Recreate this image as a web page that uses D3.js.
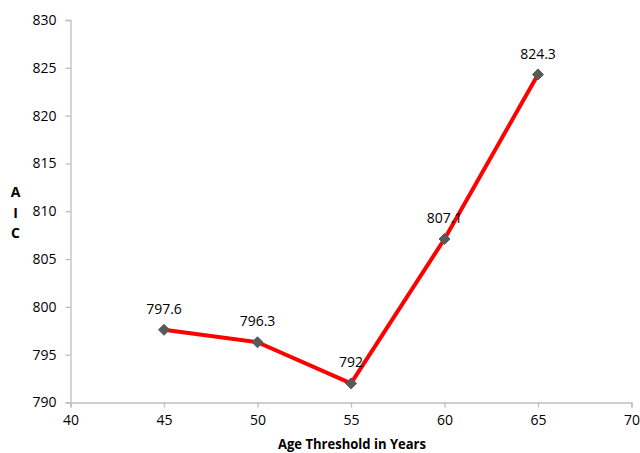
<!DOCTYPE html>
<html>
<head>
<meta charset="utf-8">
<script src="https://cdn.jsdelivr.net/npm/d3@7"></script>
<style>
  html, body { margin: 0; padding: 0; background: #fff; }
  svg { display: block; font-family: "Open Sans", Lato, sans-serif; }
</style>
</head>
<body>
<svg id="chart" width="640" height="453"></svg>
<script>
// AIC by age threshold
const thresholds = [45, 50, 55, 60, 65];
const aicValues = [797.6, 796.3, 792, 807.1, 824.3];
const xTicks = [40, 45, 50, 55, 60, 65, 70];
const yTicks = [790, 795, 800, 805, 810, 815, 820, 825, 830];
const xTitle = "Age Threshold in Years";
const yTitleLetters = ["A", "I", "C"];

const svg = d3.select("#chart");
const plotLeft = 70.5, plotRight = 631.5, plotTop = 20, plotBottom = 402.5;

const x = d3.scaleLinear().domain([40, 70]).range([plotLeft, plotRight]);
const y = d3.scaleLinear().domain([790, 830]).range([plotBottom, plotTop]);

const axisColor = "#BFBFBF";
const fontSize = 14;
const fontFamily = "'Open Sans', Lato, sans-serif";

// Y axis
const gy = svg.append("g")
  .attr("transform", `translate(${plotLeft},0)`)
  .call(d3.axisLeft(y).tickValues(yTicks).tickSize(5).tickPadding(9).tickFormat(d3.format("d")));
gy.select(".domain").attr("stroke", axisColor).attr("stroke-width", 1.3);
gy.selectAll(".tick line").attr("stroke", axisColor).attr("stroke-width", 1.3);
gy.selectAll(".tick text").attr("fill", "#000").style("font-size", fontSize + "px")
  .style("font-family", fontFamily);

// X axis
const gx = svg.append("g")
  .attr("transform", `translate(0,${plotBottom})`)
  .call(d3.axisBottom(x).tickValues(xTicks).tickSize(5).tickPadding(8).tickFormat(d3.format("d")));
gx.select(".domain").attr("stroke", axisColor).attr("stroke-width", 1.3);
gx.selectAll(".tick line").attr("stroke", axisColor).attr("stroke-width", 1.3);
gx.selectAll(".tick text").attr("fill", "#000").style("font-size", fontSize + "px")
  .style("font-family", fontFamily);

// Axis titles
svg.append("text")
  .attr("x", 352)
  .attr("y", 449)
  .attr("text-anchor", "middle")
  .attr("textLength", 148)
  .attr("lengthAdjust", "spacingAndGlyphs")
  .style("font-size", "14px")
  .style("font-weight", "bold")
  .text(xTitle);

svg.selectAll("text.ytitle")
  .data(yTitleLetters)
  .join("text")
  .attr("class", "ytitle")
  .attr("x", 15.5)
  .attr("y", (d, i) => 197 + i * 20.5)
  .attr("text-anchor", "middle")
  .style("font-size", "14px")
  .style("font-weight", "bold")
  .text(d => d);

// Series line
const pts = thresholds.map((t, i) => ({ t, v: aicValues[i] }));
svg.append("path")
  .datum(pts)
  .attr("fill", "none")
  .attr("stroke", "#FF0000")
  .attr("stroke-width", 4)
  .attr("stroke-linejoin", "round")
  .attr("d", d3.line().x(d => x(d.t)).y(d => y(d.v)));

// Diamond markers
svg.selectAll("path.marker")
  .data(pts)
  .join("path")
  .attr("class", "marker")
  .attr("transform", d => `translate(${x(d.t)},${y(d.v)})`)
  .attr("d", "M0,-5.5L5.5,0L0,5.5L-5.5,0Z")
  .attr("fill", "#595959")
  .attr("stroke", "#595959")
  .attr("stroke-width", 1);

// Value labels
svg.selectAll("text.vlabel")
  .data(pts)
  .join("text")
  .attr("class", "vlabel")
  .attr("x", d => x(d.t))
  .attr("y", d => y(d.v) - 16)
  .attr("text-anchor", "middle")
  .style("font-size", fontSize + "px")
  .text(d => d.v);
</script>
</body>
</html>
